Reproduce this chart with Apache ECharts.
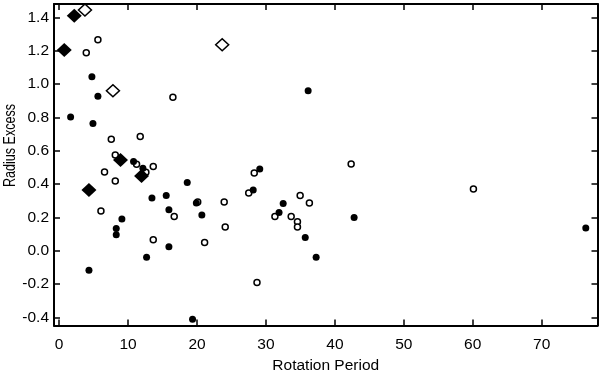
<!DOCTYPE html>
<html>
<head>
<meta charset="utf-8">
<script src="https://cdn.jsdelivr.net/npm/echarts@6/dist/echarts.min.js"></script>
<style>html,body{margin:0;padding:0;background:#fff}#chart{width:600px;height:374px}</style>
</head>
<body>
<div id="chart"></div>
<script>
// Data: [rotation period, radius excess]
const filledCircles = [
  [4.75,1.044],[5.62,0.927],[1.66,0.803],[4.9,0.763],[10.79,0.535],[12.15,0.495],
  [13.46,0.316],[15.53,0.331],[15.92,0.246],[9.1,0.19],[8.28,0.134],[8.28,0.096],
  [15.92,0.024],[4.32,-0.116],[12.68,-0.038],[19.35,-0.41],[18.58,0.41],[29.1,0.49],
  [28.15,0.364],[19.9,0.286],[20.7,0.214],[32.5,0.284],[31.9,0.23],[35.7,0.08],
  [37.28,-0.038],[36.12,0.96],[42.79,0.2],[76.4,0.136]
];
const openCircles = [
  [5.62,1.266],[3.93,1.188],[16.5,0.921],[7.56,0.669],[11.76,0.685],[8.14,0.575],
  [11.23,0.519],[13.65,0.505],[12.58,0.471],[6.58,0.473],[8.14,0.419],[16.69,0.206],
  [6.06,0.238],[13.65,0.066],[28.3,0.466],[27.5,0.347],[20.1,0.292],[23.94,0.292],
  [24.09,0.142],[21.1,0.05],[28.7,-0.19],[31.3,0.206],[34.96,0.331],[36.3,0.286],
  [33.66,0.206],[34.57,0.174],[34.57,0.142],[42.36,0.521],[60.1,0.371]
];
const filledDiamonds = [[2.19,1.41],[0.74,1.204],[8.9,0.545],[11.95,0.449],[4.32,0.364]];
const openDiamonds = [[3.74,1.444],[7.8,0.96],[23.65,1.236]];
const xTicks = [0,10,20,30,40,50,60,70];
const yTicks = [-0.4,-0.2,0.0,0.2,0.4,0.6,0.8,1.0,1.2,1.4];
const xName = 'Rotation Period';
const yName = 'Radius Excess';

const FONT = 'Liberation Sans';
const FS = 15.5;
const X_MIN = -0.75, X_MAX = 78.1, Y_MIN = -0.448, Y_MAX = 1.48;
const lineStyle = {color:'#000', width:2};
const tickStyle = {color:'#000', width:1.5};

function axisBase(extra) {
  return Object.assign({
    type:'value', scale:false,
    splitLine:{show:false},
    axisLine:{show:true, onZero:false, lineStyle},
  }, extra);
}

const chart = echarts.init(document.getElementById('chart'), null, {renderer:'canvas'});
chart.setOption({
  animation:false,
  backgroundColor:'#fff',
  grid:{left:54, right:2.5, top:4, bottom:48.5, containLabel:false, outerBoundsMode:'none'},
  graphic:[{
    type:'text', x:10, y:145.5, rotation:Math.PI/2, scaleX:0.74, scaleY:1,
    style:{text:yName, fontFamily:FONT, fontSize:17, fill:'#000',
      align:'center', verticalAlign:'middle'}
  }],
  xAxis:[
    axisBase({min:X_MIN, max:X_MAX, position:'bottom',
      name:xName, nameLocation:'middle', nameGap:32,
      nameTextStyle:{fontFamily:FONT, fontSize:FS, color:'#000'},
      axisTick:{show:true, inside:true, length:6, customValues:xTicks, lineStyle:tickStyle},
      axisLabel:{customValues:xTicks, fontFamily:FONT, fontSize:FS, color:'#000', margin:11,
        formatter:v=>String(Math.round(v))}}),
    axisBase({min:X_MIN, max:X_MAX, position:'top',
      axisTick:{show:true, inside:true, length:6, customValues:xTicks, lineStyle:tickStyle},
      axisLabel:{show:false}})
  ],
  yAxis:[
    axisBase({min:Y_MIN, max:Y_MAX, position:'left',
      axisTick:{show:true, inside:true, length:6, customValues:yTicks, lineStyle:tickStyle},
      axisLabel:{customValues:yTicks, fontFamily:FONT, fontSize:FS, color:'#000', margin:5,
        formatter:v=>v.toFixed(1)}}),
    axisBase({min:Y_MIN, max:Y_MAX, position:'right',
      axisTick:{show:true, inside:true, length:6, customValues:yTicks, lineStyle:tickStyle},
      axisLabel:{show:false}})
  ],
  series:[
    {type:'scatter', data:openCircles, symbol:'circle', symbolSize:6,
      itemStyle:{color:'#fff', borderColor:'#000', borderWidth:1.5, opacity:1}},
    {type:'scatter', data:filledCircles, symbol:'circle', symbolSize:7,
      itemStyle:{color:'#000', opacity:1}},
    {type:'scatter', data:openDiamonds, symbol:'diamond', symbolSize:[13,12],
      itemStyle:{color:'#fff', borderColor:'#000', borderWidth:1.5, opacity:1}},
    {type:'scatter', data:filledDiamonds, symbol:'diamond', symbolSize:[15,14],
      itemStyle:{color:'#000', opacity:1}}
  ]
});
</script>
</body>
</html>
